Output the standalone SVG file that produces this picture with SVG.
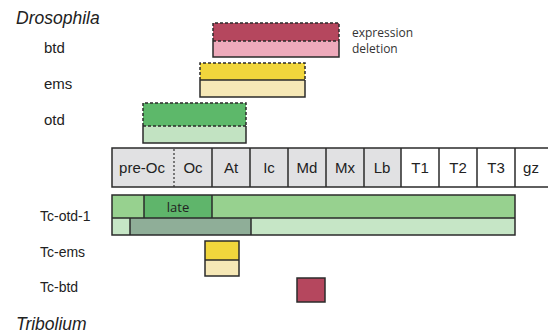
<svg xmlns="http://www.w3.org/2000/svg" width="548" height="333" viewBox="0 0 548 333">
<style>
.lbl{font-family:"Liberation Sans",Arial,sans-serif;font-size:14px;fill:#222}
.ital{font-family:"Liberation Sans",Arial,sans-serif;font-size:17.5px;font-style:italic;fill:#222}
.seg{font-family:"Liberation Sans",Arial,sans-serif;font-size:15px;fill:#222;text-anchor:middle}
.leg{font-family:"Open Sans","Liberation Sans",sans-serif;font-size:12px;fill:#333}
.solid{stroke:#2b2b2b;stroke-width:1.5}
.dash{fill:none;stroke:#2b2b2b;stroke-width:1.5;stroke-dasharray:3 2}
</style>
<text class="ital" x="16" y="24">Drosophila</text>
<text class="ital" x="16" y="330">Tribolium</text>
<g id="btd">
<text class="lbl" x="44" y="53" style="font-size:15px">btd</text>
<rect x="213" y="23" width="126" height="18" fill="#b5475e"/>
<rect x="213" y="41" width="126" height="16" fill="#eeaabb"/>
<path class="solid" d="M213 41V57H339V41" fill="none"/>
<path class="dash" d="M213 41V23H339V41M213 41H339"/>
</g>
<g id="ems">
<text class="lbl" x="44" y="89" style="font-size:15px">ems</text>
<rect x="200" y="63" width="105" height="17" fill="#f1d63c"/>
<rect x="200" y="80" width="105" height="17" fill="#f6e8b6"/>
<path class="solid" d="M200 80V97H305V80M200 80H305" fill="none"/>
<path class="dash" d="M200 80V63H305V80"/>
</g>
<g id="otd">
<text class="lbl" x="44" y="125" style="font-size:15px">otd</text>
<rect x="143" y="103" width="103" height="23" fill="#5db86a"/>
<rect x="143" y="126" width="103" height="17" fill="#c2e3c2"/>
<path class="solid" d="M143 126V143H246V126" fill="none"/>
<path class="dash" d="M143 126V103H246V126M143 126H246"/>
</g>
<g id="legend">
<text class="leg" x="352" y="37">expression</text>
<text class="leg" x="352" y="53">deletion</text>
</g>
<g id="segments">
<rect x="112" y="148" width="289" height="39" fill="#e1e1e3"/>
<path class="solid" fill="none" d="M548 148H112V187H548M212 148V187M250 148V187M288 148V187M326 148V187M364 148V187M401 148V187M439 148V187M477 148V187M515 148V187"/>
<path d="M174 149V187" stroke="#333" stroke-width="1.2" stroke-dasharray="2 2"/>
<text class="seg" x="142" y="173">pre-Oc</text>
<text class="seg" x="193" y="173">Oc</text>
<text class="seg" x="231" y="173">At</text>
<text class="seg" x="269" y="173">Ic</text>
<text class="seg" x="307" y="173">Md</text>
<text class="seg" x="345" y="173">Mx</text>
<text class="seg" x="382" y="173">Lb</text>
<text class="seg" x="420" y="173">T1</text>
<text class="seg" x="458" y="173">T2</text>
<text class="seg" x="496" y="173">T3</text>
<text class="seg" x="531" y="173">gz</text>
</g>
<g id="tc-otd-1">
<text class="lbl" x="40" y="221">Tc-otd-1</text>
<rect x="112" y="195" width="403" height="23" fill="#97d18f"/>
<rect x="144" y="195" width="68" height="23" fill="#5fb56b"/>
<rect x="112" y="218" width="403" height="17" fill="#c6e6c6"/>
<rect x="130" y="218" width="121" height="17" fill="#8fae98"/>
<path class="solid" fill="none" d="M112 195H515V235H112ZM112 218H515M144 195V218M212 195V218M130 218V235M251 218V235"/>
<text x="178" y="212" style="font-family:'Open Sans','Liberation Sans',sans-serif;font-size:13px;fill:#222;text-anchor:middle">late</text>
</g>
<g id="tc-ems">
<text class="lbl" x="40" y="257">Tc-ems</text>
<rect x="205" y="241" width="34" height="19" fill="#f1d63c"/>
<rect x="205" y="260" width="34" height="16" fill="#f6e8b6"/>
<path class="solid" fill="none" d="M205 241H239V276H205ZM205 260H239"/>
</g>
<g id="tc-btd">
<text class="lbl" x="40" y="292">Tc-btd</text>
<rect class="solid" x="297" y="278" width="28" height="24" fill="#b5475e"/>
</g>
</svg>
